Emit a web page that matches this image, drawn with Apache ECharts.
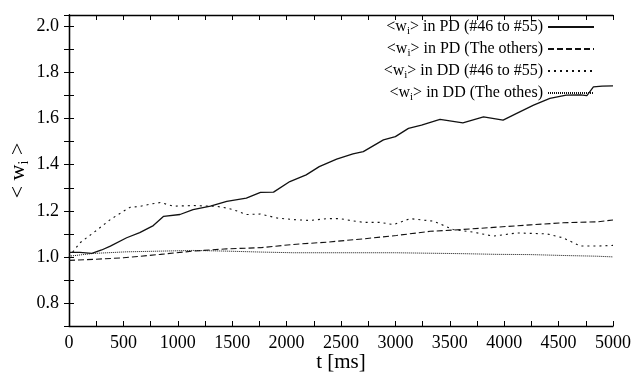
<!DOCTYPE html>
<html>
<head>
<meta charset="utf-8">
<script src="https://cdn.jsdelivr.net/npm/echarts@6/dist/echarts.min.js"></script>
<style>html,body{margin:0;padding:0;background:#fff;}#c{width:633px;height:377px;}</style>
</head>
<body>
<div id="c"></div>
<script>
// Series names
const seriesNames = [
  '<w{s|i}> in PD (#46 to #55)',
  '<w{s|i}> in PD (The others)',
  '<w{s|i}> in DD (#46 to #55)',
  '<w{s|i}> in DD (The othes)'
];
// [t (ms), <w_i>]
const pdTarget = [[0,1.02],[100,1.02],[210,1.015],[300,1.03],[380,1.047],[530,1.083],[650,1.105],[775,1.136],[870,1.176],[1020,1.184],[1140,1.205],[1300,1.22],[1450,1.241],[1630,1.255],[1760,1.28],[1880,1.281],[2030,1.327],[2180,1.356],[2300,1.392],[2460,1.424],[2610,1.447],[2705,1.457],[2890,1.508],[3000,1.522],[3120,1.558],[3240,1.572],[3410,1.597],[3620,1.582],[3810,1.608],[3990,1.594],[4115,1.623],[4270,1.659],[4420,1.688],[4570,1.702],[4700,1.703],[4760,1.700],[4820,1.738],[4900,1.741],[5000,1.742]];
const pdOthers = [[0,0.985],[250,0.99],[500,0.996],[840,1.011],[1140,1.025],[1450,1.035],[1760,1.04],[2060,1.054],[2370,1.064],[2700,1.078],[3010,1.093],[3320,1.111],[3620,1.119],[3930,1.129],[4240,1.139],[4540,1.148],[4850,1.152],[5000,1.16]];
const ddTarget = [[0,1.0],[100,1.061],[225,1.105],[380,1.162],[500,1.198],[560,1.215],[650,1.219],[745,1.229],[840,1.236],[960,1.22],[1140,1.223],[1360,1.219],[1450,1.212],[1510,1.205],[1630,1.184],[1760,1.186],[1910,1.169],[2060,1.162],[2215,1.158],[2370,1.166],[2490,1.166],[2600,1.157],[2705,1.15],[2860,1.15],[2980,1.14],[3135,1.166],[3350,1.155],[3530,1.119],[3720,1.107],[3900,1.09],[4115,1.104],[4390,1.1],[4540,1.083],[4700,1.047],[4850,1.047],[5000,1.05]];
const ddOthers = [[0,1.003],[225,1.015],[530,1.022],[840,1.025],[1140,1.028],[1450,1.025],[1760,1.021],[2060,1.018],[2400,1.018],[2700,1.018],[3000,1.018],[3300,1.016],[3620,1.014],[3930,1.011],[4240,1.01],[4550,1.006],[4850,1.003],[5000,1.0]];
const xTickLabels = [0,500,1000,1500,2000,2500,3000,3500,4000,4500,5000];
const yTickLabels = [0.8,1.0,1.2,1.4,1.6,1.8,2.0];

const FONT = "'Liberation Serif', 'Times New Roman', serif";
const chart = echarts.init(document.getElementById('c'), null, {renderer:'canvas'});
const tickStyle = {show:true, inside:true, length:5, lineStyle:{color:'#000', width:1}};
const lineCol = '#111';
const mk = (name, data, type, width) => ({
  name, type:'line', data, symbol:'none', showSymbol:false, smooth:false,
  lineStyle:{color:lineCol, width, type}, itemStyle:{color:lineCol},
  animation:false
});
chart.setOption({
  animation:false,
  backgroundColor:'#fff',
  grid:{left:69, right:20, top:15, bottom:51, containLabel:false, outerBoundsMode:'none'},
  legend:{
    orient:'vertical', right:38, top:19, align:'right', padding:0,
    itemWidth:46, itemHeight:12, itemGap:4,
    itemStyle:{opacity:0},
    textStyle:{fontFamily:FONT, fontSize:16, color:'#000',
      rich:{s:{fontFamily:FONT, fontSize:11, color:'#000', padding:[9,0,0,0]}}},
    formatter: n => n,
    data: seriesNames
  },
  xAxis:[{
    type:'value', min:0, max:5000, interval:250,
    name:'t [ms]', nameLocation:'middle', nameGap:26, nameMoveOverlap:false,
    nameTextStyle:{fontFamily:FONT, fontSize:21, color:'#000'},
    axisLine:{show:true, lineStyle:{color:'#000', width:1.3}},
    axisTick:tickStyle, splitLine:{show:false},
    axisLabel:{fontFamily:FONT, fontSize:18, color:'#000', margin:8,
      formatter: v => xTickLabels.includes(v) ? String(v) : ''}
  },{
    type:'value', position:'top', min:0, max:5000, interval:250,
    axisLine:{show:true, lineStyle:{color:'#000', width:1.3}},
    axisTick:tickStyle, axisLabel:{show:false}, splitLine:{show:false}
  }],
  yAxis:[{
    type:'value', min:0.7, max:2.05, interval:0.1,
    name:'< w{s|i} >', nameLocation:'middle', nameGap:38, nameRotate:90, nameMoveOverlap:false,
    nameTextStyle:{fontFamily:FONT, fontSize:22, color:'#000',
      rich:{s:{fontFamily:FONT, fontSize:14, color:'#000', padding:[12,0,0,0]}}},
    axisLine:{show:true, lineStyle:{color:'#000', width:1.3}},
    axisTick:tickStyle, splitLine:{show:false},
    axisLabel:{fontFamily:FONT, fontSize:18, color:'#000', margin:10, showMaxLabel:false,
      formatter: v => { const r = Math.round(v*10)/10; return (yTickLabels.some(t => Math.abs(t-r)<1e-6) && Math.abs(v-r)<1e-6) ? r.toFixed(1) : ''; }}
  },{
    type:'value', position:'right', min:0.7, max:2.05, interval:0.1,
    axisLine:{show:true, lineStyle:{color:'#000', width:1.3}},
    axisTick:tickStyle, axisLabel:{show:false}, splitLine:{show:false}
  }],
  series:[
    mk(seriesNames[0], pdTarget, 'solid', 1.3),
    mk(seriesNames[1], pdOthers, [6,3], 1.1),
    mk(seriesNames[2], ddTarget, [2,4], 1.1),
    mk(seriesNames[3], ddOthers, [1,1], 1)
  ]
});
</script>
</body>
</html>
